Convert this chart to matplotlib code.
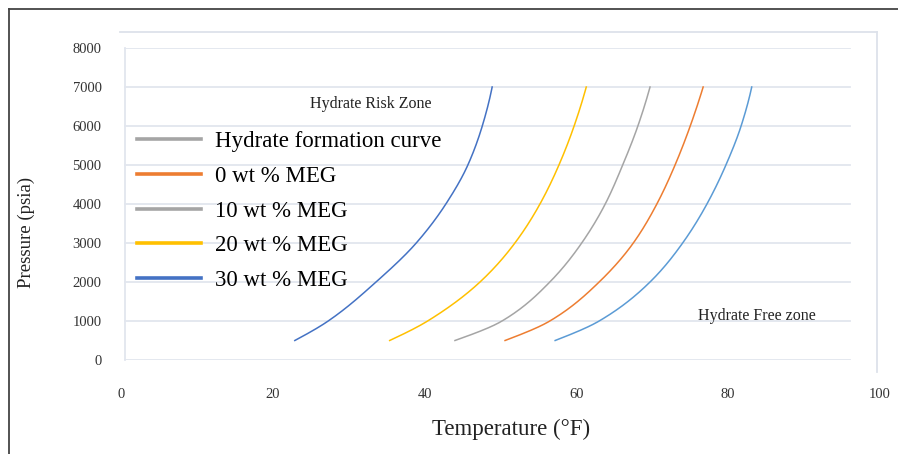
import matplotlib
matplotlib.use("Agg")
import matplotlib.pyplot as plt
from matplotlib.lines import Line2D
import numpy as np

# ---------------- data ----------------
pressure_psia = [500, 1000, 2000, 3000, 4000, 5000, 6000, 7000]
temp_30_meg = [22.9, 27.3, 33.6, 38.9, 42.8, 45.7, 47.6, 48.9]
temp_20_meg = [35.4, 40.4, 47.3, 51.9, 55.2, 57.7, 59.7, 61.3]
temp_10_meg = [44.0, 50.2, 56.5, 60.7, 63.8, 66.1, 68.1, 69.7]
temp_0_meg = [50.6, 56.5, 63.0, 67.5, 70.6, 73.0, 75.0, 76.7]
temp_hydrate = [57.2, 63.0, 69.7, 74.0, 77.2, 79.7, 81.7, 83.1]

x_ticks = [0, 20, 40, 60, 80, 100]
y_ticks = [0, 1000, 2000, 3000, 4000, 5000, 6000, 7000, 8000]

legend_labels = ["Hydrate formation curve", "0 wt % MEG", "10 wt % MEG",
                 "20 wt % MEG", "30 wt % MEG"]
legend_colors = ["#A5A5A5", "#ED7D31", "#A5A5A5", "#FFC000", "#4472C4"]


def pchip_curve(p, t, n=300):
    """Smooth monotone (PCHIP) rendering of T(P) through the read points."""
    p = np.asarray(p, float)
    t = np.asarray(t, float)
    h = np.diff(p)
    d = np.diff(t) / h
    m = np.zeros_like(t)
    for k in range(1, len(t) - 1):
        if d[k - 1] * d[k] > 0:
            w1 = 2 * h[k] + h[k - 1]
            w2 = h[k] + 2 * h[k - 1]
            m[k] = (w1 + w2) / (w1 / d[k - 1] + w2 / d[k])
    m[0] = ((2 * h[0] + h[1]) * d[0] - h[0] * d[1]) / (h[0] + h[1])
    if np.sign(m[0]) != np.sign(d[0]):
        m[0] = 0
    m[-1] = ((2 * h[-1] + h[-2]) * d[-1] - h[-1] * d[-2]) / (h[-1] + h[-2])
    if np.sign(m[-1]) != np.sign(d[-1]):
        m[-1] = 0
    pp = np.linspace(p[0], p[-1], n)
    idx = np.clip(np.searchsorted(p, pp) - 1, 0, len(p) - 2)
    s = (pp - p[idx]) / h[idx]
    h00 = 2 * s**3 - 3 * s**2 + 1
    h10 = s**3 - 2 * s**2 + s
    h01 = -2 * s**3 + 3 * s**2
    h11 = s**3 - s**2
    tt = (h00 * t[idx] + h10 * h[idx] * m[idx]
          + h01 * t[idx + 1] + h11 * h[idx] * m[idx + 1])
    return tt, pp


# ---------------- figure ----------------
W, H = 898, 454
fig = plt.figure(figsize=(W / 100, H / 100), dpi=100)
plt.rcParams["font.family"] = ["Liberation Serif", "DejaVu Serif"]


def fx(px):
    return px / W


def fy(py):
    return 1 - py / H


ax = fig.add_axes([fx(121), fy(360), (880 - 121) / W, (360 - 48) / H])
ax.set_xlim(0, 100)
ax.set_ylim(0, 8000)
for s in ax.spines.values():
    s.set_visible(False)

grid_c = "#E2E6EE"
x0f = (125 - 121) / (880 - 121)
x1f = (850 - 121) / (880 - 121)
for v in y_ticks:
    ax.axhline(v, xmin=x0f, xmax=x1f, color=grid_c, lw=1.3, zorder=0)
ax.plot([x0f, x0f], [0, 1], transform=ax.transAxes, color=grid_c, lw=1.3,
        clip_on=False, zorder=0)

# curves
series = [(temp_30_meg, "#4472C4"), (temp_20_meg, "#FFC000"),
          (temp_10_meg, "#A5A5A5"), (temp_0_meg, "#ED7D31"),
          (temp_hydrate, "#5B9BD5")]
for temps, col in series:
    tx, py = pchip_curve(pressure_psia, temps)
    ax.plot(tx, py, color=col, lw=1.1)

ax.set_xticks(x_ticks)
ax.set_yticks(y_ticks)
ax.tick_params(axis="both", length=0, labelsize=10.5, colors="#333333")
ax.tick_params(axis="y", pad=14)
ax.tick_params(axis="x", pad=20)

ax.set_xlabel("Temperature (°F)", fontsize=16.5, color="#222222")
ax.xaxis.set_label_coords((511 - 121) / (880 - 121), -0.19)
ax.set_ylabel("Pressure (psia)", fontsize=13.5, color="#222222")
ax.yaxis.set_label_coords((35 - 121) / (880 - 121), 0.41)

handles = [Line2D([], [], color=c, lw=2.6) for c in legend_colors]
fig.legend(handles, legend_labels, loc="upper left",
           bbox_to_anchor=(fx(137), fy(131)), frameon=False, fontsize=16.5,
           handlelength=2.8, handletextpad=0.62, labelspacing=0.6,
           borderpad=0, borderaxespad=0)

fig.text(fx(371), fy(104), "Hydrate Risk Zone", fontsize=11.5,
         ha="center", va="center", color="#222222")
fig.text(fx(757), fy(316), "Hydrate Free zone", fontsize=11.5,
         ha="center", va="center", color="#222222")

# decorative frames
box_c = "#DDE2EA"
fig.add_artist(Line2D([fx(120), fx(877)], [fy(32), fy(32)], color=box_c, lw=1.3))
fig.add_artist(Line2D([fx(877), fx(877)], [fy(32), fy(372)], color=box_c, lw=1.3))
dark = "#444444"
fig.add_artist(Line2D([fx(9), fx(9)], [fy(9), fy(454)], color=dark, lw=1.3))
fig.add_artist(Line2D([fx(9), fx(898)], [fy(9), fy(9)], color=dark, lw=1.3))

fig.savefig("out.png", dpi=100)
